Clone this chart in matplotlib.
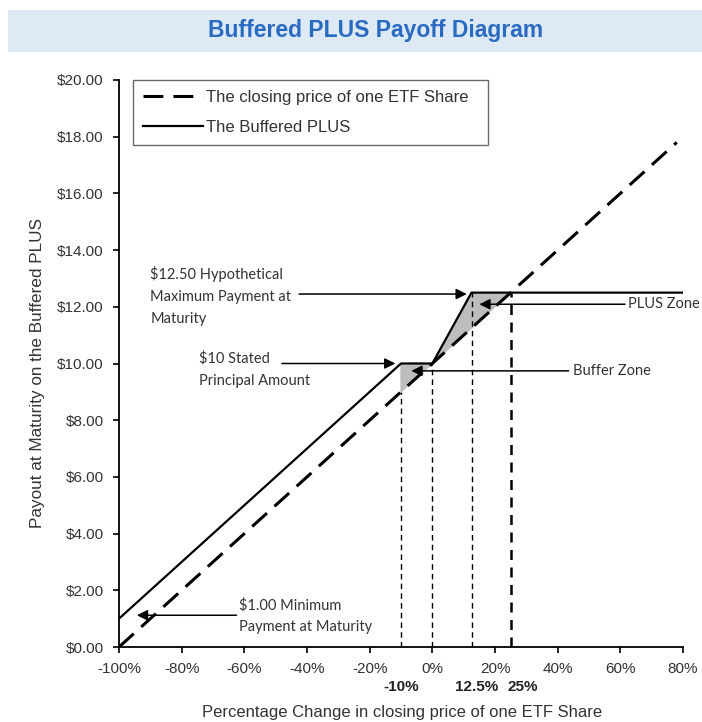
import numpy as np
import matplotlib.pyplot as plt
from matplotlib.patches import Rectangle

# payoff data (% change in ETF, payout in $)
etf_pct = [-100, 78]
etf_pay = [0.0, 17.8]
plus_pct = [-100, -10, 0, 12.5, 80]
plus_pay = [1.0, 10.0, 10.0, 12.5, 12.5]

buffer_zone_pct = [-10, 0, -10]
buffer_zone_pay = [10.0, 10.0, 9.0]
plus_zone_pct = [0, 12.5, 25]
plus_zone_pay = [10.0, 12.5, 12.5]

marker_pct = [-10, 0, 12.5, 25]
marker_pay = [9.0, 10.0, 12.5, 12.5]
marker_labels = ['-10%', '12.5%', '25%']
marker_label_pct = [-10, 14, 29]

x_ticks = [-100, -80, -60, -40, -20, 0, 20, 40, 60, 80]
y_ticks = [0, 2, 4, 6, 8, 10, 12, 14, 16, 18, 20]

plt.rcParams['font.family'] = ['Liberation Sans', 'DejaVu Sans']
note_font = ['Lato', 'DejaVu Sans']
txt_col = '#333333'

fig = plt.figure(figsize=(7.02, 7.22), dpi=100)

# title bar
fig.patches.append(Rectangle((8 / 702, 1 - 52 / 722), 1 - 8 / 702, 42 / 722,
                             transform=fig.transFigure, facecolor='#dde9f5',
                             edgecolor='none', zorder=0))
fig.text(0.535, 1 - 31 / 722, 'Buffered PLUS Payoff Diagram', ha='center', va='center',
         fontsize=16.5, fontweight='bold', color='#2a6bc2')

ax = fig.add_axes([119 / 702, 75 / 722, (683 - 119) / 702, (647 - 80) / 722])
ax.set_xlim(-100, 80)
ax.set_ylim(0, 20)

# shaded zones
ax.fill(buffer_zone_pct, buffer_zone_pay, color='#bdbdbd', zorder=1)
ax.fill(plus_zone_pct, plus_zone_pay, color='#bdbdbd', zorder=1)

# vertical reference lines
for p, v in zip(marker_pct, marker_pay):
    lw = 1.8 if p == 25 else 1.0
    ax.plot([p, p], [0, v], color='black', lw=lw, linestyle=(0, (4, 3)), zorder=2)

ax.plot(etf_pct, etf_pay, color='black', lw=2.2, linestyle=(0, (6.5, 3.3)),
        label='The closing price of one ETF Share', zorder=3)
ax.plot(plus_pct, plus_pay, color='black', lw=1.6,
        label='The Buffered PLUS', zorder=3)

leg = ax.legend(loc='upper left', bbox_to_anchor=(0.025, 1.0), fontsize=12,
                frameon=True, fancybox=False, edgecolor='#444444', handlelength=3.6,
                handletextpad=0.2, borderpad=0.6, labelspacing=0.9, borderaxespad=0)
for t in leg.get_texts():
    t.set_color(txt_col)
    t.set_text(t.get_text() + '  ')
leg.get_frame().set_linewidth(1.0)

# annotations
arrow = dict(arrowstyle='-|>', color='black', lw=1.1, mutation_scale=16, shrinkA=0, shrinkB=0)
nk = dict(fontsize=10.5, color=txt_col, family=note_font, va='center')

ax.text(-90, 13.15, '$12.50 Hypothetical', **nk)
ax.text(-90, 12.34, 'Maximum Payment at', **nk)
ax.text(-90, 11.56, 'Maturity', **nk)
ax.annotate('', xy=(11, 12.45), xytext=(-42.5, 12.45), arrowprops=arrow)

ax.text(-74.5, 10.2, '$10 Stated', **nk)
ax.text(-74.5, 9.4, 'Principal Amount', **nk)
ax.annotate('', xy=(-11.8, 10.0), xytext=(-48, 10.0), arrowprops=arrow)

ax.text(62.3, 12.09, 'PLUS Zone', **nk)
ax.annotate('', xy=(15, 12.09), xytext=(61.5, 12.09), arrowprops=arrow)

ax.text(44.8, 9.74, 'Buffer Zone', **nk)
ax.annotate('', xy=(-6.7, 9.74), xytext=(43.5, 9.74), arrowprops=arrow)

ax.text(-61.7, 1.48, '$1.00 Minimum', **nk)
ax.text(-61.7, 0.70, 'Payment at Maturity', **nk)
ax.annotate('', xy=(-94.3, 1.12), xytext=(-62.5, 1.12), arrowprops=arrow)

# axes styling
for s in ['top', 'right']:
    ax.spines[s].set_visible(False)
ax.spines['left'].set_linewidth(1.3)
ax.spines['bottom'].set_linewidth(1.3)
ax.set_xticks(x_ticks)
ax.set_xticklabels([f'{t}%' for t in x_ticks])
ax.set_yticks(y_ticks)
ax.set_yticklabels([f'${t:.2f}' for t in y_ticks])
ax.tick_params(direction='out', length=4, width=1.2, labelsize=11, labelcolor=txt_col, pad=7)

trans = ax.get_xaxis_transform()
for lab, p in zip(marker_labels, marker_label_pct):
    ax.text(p, -0.071, lab, transform=trans, ha='center', va='center',
            fontsize=11, fontweight='bold', color='#222222')

fig.text(402 / 702, 1 - 712 / 722, 'Percentage Change in closing price of one ETF Share',
         ha='center', va='center', fontsize=12, color=txt_col)
fig.text(38 / 702, 1 - 373 / 722, 'Payout at Maturity on the Buffered PLUS',
         ha='center', va='center', rotation=90, fontsize=12.3, color=txt_col)

fig.savefig('out.png', dpi=100)
